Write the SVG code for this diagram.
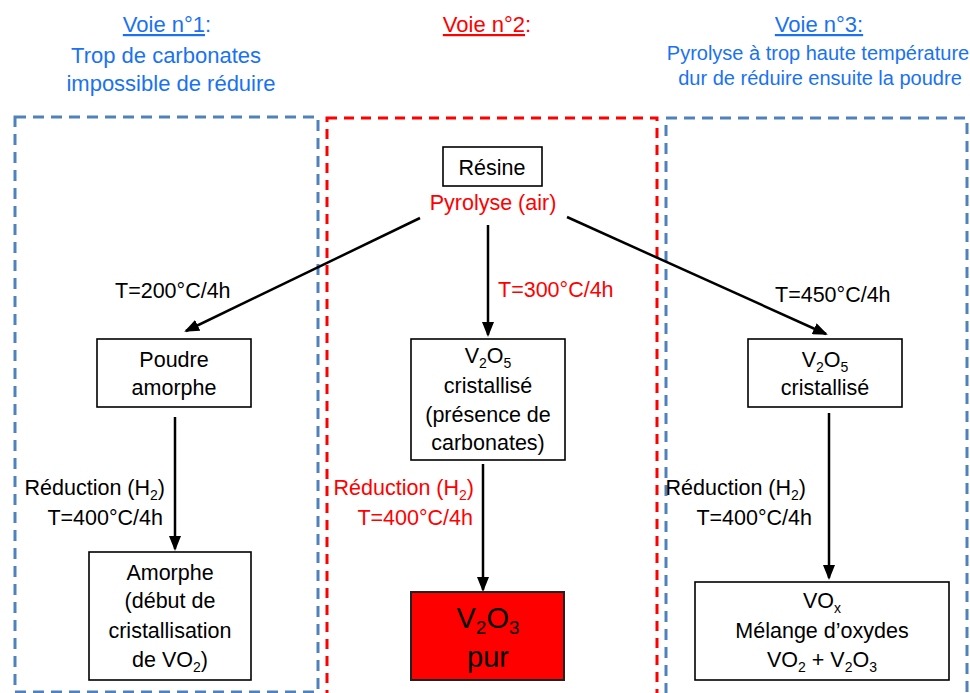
<svg xmlns="http://www.w3.org/2000/svg" width="970" height="693" viewBox="0 0 970 693">
<style>
text{font-family:"Liberation Sans",Arial,sans-serif;font-size:21.5px;fill:#000}
.c{text-anchor:middle}
.e{text-anchor:end}
.red{fill:#ff0000}
.blue{fill:#1a72f2}
.h1{font-size:22px}
.h3{font-size:20px}
.big{font-size:29px}
.box{fill:#fff;stroke:#000;stroke-width:1.6}
.zoneB{fill:none;stroke:#4f81bd;stroke-width:3;stroke-dasharray:11 7}
.zoneR{fill:none;stroke:#ff0000;stroke-width:3;stroke-dasharray:10 7}
.arr{stroke:#000;stroke-width:2.5;fill:none;marker-end:url(#ah)}
.u{text-decoration:underline}
</style>
<defs>
<marker id="ah" markerUnits="userSpaceOnUse" markerWidth="15" markerHeight="12" refX="13" refY="6" orient="auto">
<path d="M0,0 L15,6 L0,12 z" fill="#000"/>
</marker>
</defs>
<rect width="970" height="693" fill="#fff"/>

<g id="zones">
<rect class="zoneB" x="15" y="117" width="303" height="575"/>
<rect class="zoneR" x="327" y="118" width="330" height="590"/>
<rect class="zoneB" x="666" y="118" width="301" height="590"/>
</g>

<g id="headers">
<text class="c blue h1" x="167" y="32"><tspan class="u">Voie n°1</tspan>:</text>
<text class="c blue h1" x="166" y="63">Trop de carbonates</text>
<text class="c blue h1" x="171" y="91">impossible de réduire</text>
<text class="c red h1" x="487" y="32"><tspan class="u">Voie n°2</tspan>:</text>
<text class="c blue h1" x="819" y="32"><tspan class="u">Voie n°3:</tspan></text>
<text class="c blue h3" x="818" y="60">Pyrolyse à trop haute température</text>
<text class="c blue h3" x="820" y="85">dur de réduire ensuite la poudre</text>
</g>

<g id="connectors">
<line class="arr" x1="420" y1="218" x2="186" y2="331"/>
<line class="arr" x1="488" y1="225" x2="488" y2="335"/>
<line class="arr" x1="567" y1="217" x2="826" y2="334"/>
<line class="arr" x1="175" y1="417" x2="175" y2="549"/>
<line class="arr" x1="483" y1="464" x2="483" y2="590"/>
<line class="arr" x1="829" y1="413" x2="829" y2="578"/>
</g>

<g id="labels">
<text x="115" y="298">T=200°C/4h</text>
<text class="red" x="498" y="297">T=300°C/4h</text>
<text x="775" y="302">T=450°C/4h</text>
<text class="e" x="165" y="495">Réduction (H<tspan font-size="14" dy="5">2</tspan><tspan dy="-5">)</tspan></text>
<text class="e" x="163" y="525">T=400°C/4h</text>
<text class="e red" x="474" y="495">Réduction (H<tspan font-size="14" dy="5">2</tspan><tspan dy="-5">)</tspan></text>
<text class="e red" x="473" y="525">T=400°C/4h</text>
<text class="e" x="806" y="495">Réduction (H<tspan font-size="14" dy="5">2</tspan><tspan dy="-5">)</tspan></text>
<text class="e" x="812" y="525">T=400°C/4h</text>
</g>

<g id="resine">
<rect class="box" x="443" y="147" width="99" height="39"/>
<text class="c" x="492" y="175">Résine</text>
<text class="c red" x="493" y="210">Pyrolyse (air)</text>
</g>

<g id="poudre">
<rect class="box" x="97" y="339" width="154" height="68"/>
<text class="c" x="174" y="367">Poudre</text>
<text class="c" x="174" y="395">amorphe</text>
</g>

<g id="amorphe">
<rect class="box" x="89" y="552" width="162" height="128"/>
<text class="c" x="170" y="580">Amorphe</text>
<text class="c" x="170" y="608">(début de</text>
<text class="c" x="170" y="638">cristallisation</text>
<text class="c" x="170" y="667">de VO<tspan font-size="14" dy="5">2</tspan><tspan dy="-5">)</tspan></text>
</g>

<g id="v2o5-mid">
<rect class="box" x="411" y="339" width="154" height="121"/>
<text class="c" x="488" y="363">V<tspan font-size="14" dy="5">2</tspan><tspan dy="-5">O</tspan><tspan font-size="14" dy="5">5</tspan></text>
<text class="c" x="488" y="393">cristallisé</text>
<text class="c" x="488" y="422">(présence de</text>
<text class="c" x="488" y="450">carbonates)</text>
</g>

<g id="v2o3">
<rect x="411" y="592" width="153" height="88" fill="#ff0000" stroke="#222" stroke-width="2"/>
<text class="c big" x="488" y="628">V<tspan font-size="19" dy="6">2</tspan><tspan dy="-6">O</tspan><tspan font-size="19" dy="6">3</tspan></text>
<text class="c big" x="488" y="667">pur</text>
</g>

<g id="v2o5-right">
<rect class="box" x="748" y="339" width="154" height="68"/>
<text class="c" x="825" y="367">V<tspan font-size="14" dy="5">2</tspan><tspan dy="-5">O</tspan><tspan font-size="14" dy="5">5</tspan></text>
<text class="c" x="825" y="395">cristallisé</text>
</g>

<g id="vox">
<rect class="box" x="695" y="582" width="254" height="98"/>
<text class="c" x="822" y="608">VO<tspan font-size="14" dy="5">x</tspan></text>
<text class="c" x="822" y="638">Mélange d’oxydes</text>
<text class="c" x="822" y="667">VO<tspan font-size="14" dy="5">2</tspan><tspan dy="-5"> + V</tspan><tspan font-size="14" dy="5">2</tspan><tspan dy="-5">O</tspan><tspan font-size="14" dy="5">3</tspan></text>
</g>
</svg>
